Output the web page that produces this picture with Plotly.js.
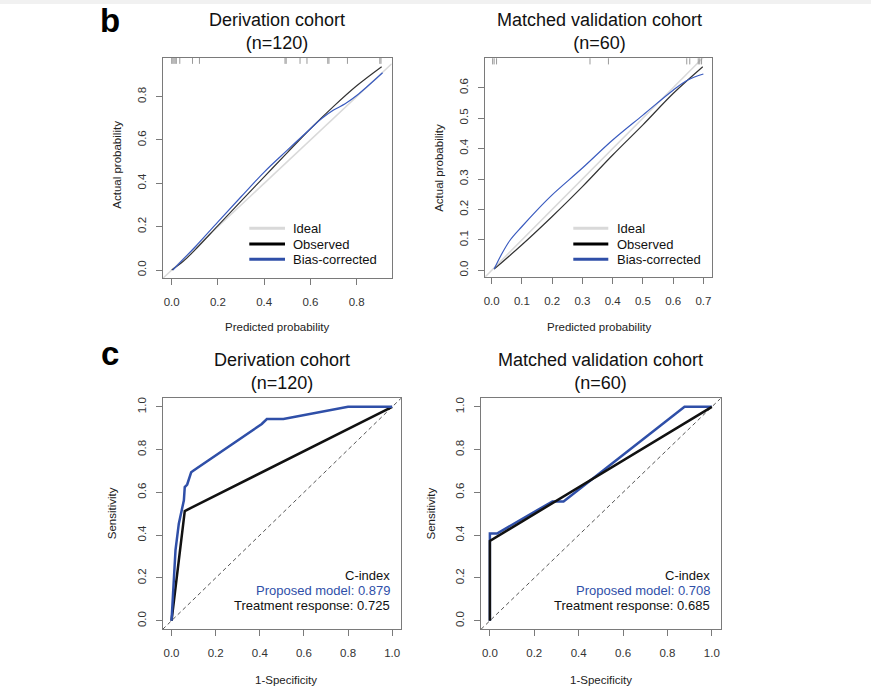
<!DOCTYPE html>
<html><head><meta charset="utf-8">
<script src="https://cdn.plot.ly/plotly-3.0.1.min.js"></script>
<style>html,body{margin:0;padding:0;background:#fff}#chart{width:871px;height:692px}</style>
</head><body><div id="chart"></div>
<script>
// ---------- data ----------
// Calibration, derivation cohort (n=120)
const calDerivObsX  = [0.0, 0.05, 0.1, 0.2, 0.3, 0.4, 0.5, 0.6, 0.7, 0.8, 0.908];
const calDerivObsY  = [0.0, 0.04, 0.092, 0.205, 0.318, 0.43, 0.542, 0.652, 0.755, 0.85, 0.938];
const calDerivBiasX = [0.005, 0.05, 0.1, 0.2, 0.3, 0.4, 0.5, 0.6, 0.65, 0.7, 0.75, 0.8, 0.912];
const calDerivBiasY = [0.0, 0.05, 0.105, 0.222, 0.338, 0.452, 0.553, 0.652, 0.70, 0.738, 0.767, 0.805, 0.91];
const rugDeriv = [0.0, 0.005, 0.01, 0.015, 0.02, 0.035, 0.09, 0.12, 0.49, 0.495, 0.555, 0.585, 0.675, 0.68, 0.76, 0.9, 0.905];
// Calibration, matched validation cohort (n=60)
const calMatchObsX  = [0.008, 0.1, 0.2, 0.3, 0.4, 0.5, 0.6, 0.698];
const calMatchObsY  = [0.004, 0.084, 0.177, 0.275, 0.379, 0.478, 0.581, 0.669];
const calMatchBiasX = [0.008, 0.03, 0.06, 0.1, 0.15, 0.2, 0.3, 0.4, 0.5, 0.6, 0.65, 0.70];
const calMatchBiasY = [0.004, 0.048, 0.098, 0.144, 0.198, 0.248, 0.336, 0.428, 0.51, 0.592, 0.626, 0.645];
const rugMatch = [0.003, 0.008, 0.016, 0.325, 0.386, 0.645, 0.655, 0.683, 0.688, 0.694];
// ROC, derivation cohort
const rocDerivModelX = [0, 0.006, 0.018, 0.033, 0.056, 0.06, 0.071, 0.089, 0.10, 0.409, 0.432, 0.507, 0.80, 1.0];
const rocDerivModelY = [0, 0.129, 0.33, 0.454, 0.563, 0.625, 0.637, 0.694, 0.702, 0.92, 0.943, 0.943, 1.0, 1.0];
const rocDerivTrtX = [0, 0.06, 1.0];
const rocDerivTrtY = [0, 0.513, 1.0];
// ROC, matched validation cohort
const rocMatchModelX = [0, 0, 0.032, 0.282, 0.332, 0.877, 1.0];
const rocMatchModelY = [0, 0.408, 0.408, 0.558, 0.558, 1.0, 1.0];
const rocMatchTrtX = [0, 0, 1.0];
const rocMatchTrtY = [0, 0.373, 1.0];
// C-index values
const cIndexDeriv = {model: '0.879', trt: '0.725'};
const cIndexMatch = {model: '0.708', trt: '0.685'};
// labels
const panelTitles = ['Derivation cohort<br>(n=120)', 'Matched validation cohort<br>(n=60)'];
const legendLabels = ['Ideal', 'Observed', 'Bias-corrected'];

// ---------- styling / layout ----------
const W = 871, H = 692;
const fx = v => v / W, fy = v => 1 - v / H;
const FONT = 'Liberation Sans, Arial, Helvetica, sans-serif';
const BLUE = '#2f4fa8', BLACK = '#111111', IDEAL = '#d9d9d9', AX = '#7a7a7a';

const ranges = {
  x1: [-0.0389, 0.9514], y1: [-0.0383, 0.9797],
  x2: [-0.0222, 0.7295], y2: [-0.021, 0.6967],
  x3: [-0.04, 1.04], y3: [-0.04, 1.04],
  x4: [-0.04, 1.04], y4: [-0.04, 1.04]
};
function ax(domain, range, anchor, tickvals, isY) {
  return {
    domain: domain, range: range, anchor: anchor,
    showline: true, mirror: true, linecolor: AX, linewidth: 1,
    ticks: 'outside', ticklen: 6, tickcolor: AX, tickwidth: 1,
    showgrid: false, zeroline: false, fixedrange: true,
    tickmode: 'array', tickvals: tickvals, ticktext: tickvals.map(v => v.toFixed(1)),
    tickfont: {family: FONT, size: 11.5, color: '#333'},
    tickangle: isY ? -90 : 0,
    ticklabelstandoff: isY ? 5 : 7
  };
}
const t08 = [0, 0.2, 0.4, 0.6, 0.8];
const t07 = [0, 0.1, 0.2, 0.3, 0.4, 0.5, 0.6, 0.7];
const t06 = [0, 0.1, 0.2, 0.3, 0.4, 0.5, 0.6];
const t10 = [0, 0.2, 0.4, 0.6, 0.8, 1.0];

const traces = [];
function line(x, y, xa, ya, color, width, dash, shape) {
  traces.push({x: x, y: y, xaxis: xa, yaxis: ya, type: 'scatter', mode: 'lines',
    line: {color: color, width: width, dash: dash || 'solid', shape: shape || 'linear', smoothing: 1},
    showlegend: false, hoverinfo: 'skip'});
}
function rug(vals, xa, ya, yr) {
  const top = yr[1] - (yr[1] - yr[0]) * 0.012;
  traces.push({x: vals, y: vals.map(() => top), xaxis: xa, yaxis: ya, type: 'scatter', mode: 'markers',
    marker: {symbol: 'line-ns-open', size: 5, color: '#9a9a9a', line: {color: '#9a9a9a', width: 1}},
    showlegend: false, hoverinfo: 'skip'});
}
// calibration 1
line(ranges.x1, ranges.x1, 'x', 'y', IDEAL, 1.5);
line(calDerivObsX, calDerivObsY, 'x', 'y', '#333', 1.2, null, 'spline');
line(calDerivBiasX, calDerivBiasY, 'x', 'y', '#3a5bbf', 1.2, null, 'spline');
rug(rugDeriv, 'x', 'y', ranges.y1);
// calibration 2
line(ranges.x2, ranges.x2, 'x2', 'y2', IDEAL, 1.5);
line(calMatchObsX, calMatchObsY, 'x2', 'y2', '#333', 1.2, null, 'spline');
line(calMatchBiasX, calMatchBiasY, 'x2', 'y2', '#3a5bbf', 1.2, null, 'spline');
rug(rugMatch, 'x2', 'y2', ranges.y2);
// ROC 1
line(ranges.x3, ranges.x3, 'x3', 'y3', '#555', 1, '4px,3px');
line(rocDerivTrtX, rocDerivTrtY, 'x3', 'y3', BLACK, 2.5);
line(rocDerivModelX, rocDerivModelY, 'x3', 'y3', BLUE, 2.5);
// ROC 2
line(ranges.x4, ranges.x4, 'x4', 'y4', '#555', 1, '4px,3px');
line(rocMatchModelX, rocMatchModelY, 'x4', 'y4', BLUE, 2.5);
line(rocMatchTrtX, rocMatchTrtY, 'x4', 'y4', BLACK, 2.5);

const annotations = [];
function txt(text, x, y, opts) {
  annotations.push(Object.assign({text: text, x: x, y: y, xref: 'paper', yref: 'paper', showarrow: false,
    xanchor: 'center', yanchor: 'middle', font: {family: FONT, size: 11.5, color: '#222'}}, opts || {}));
}
// panel letters
txt('<b>b</b>', fx(110), 1, {yanchor: 'top', font: {family: FONT, size: 33, color: '#000'}});
txt('<b>c</b>', fx(110), fy(353), {font: {family: FONT, size: 33, color: '#000'}});
// titles
txt(panelTitles[0], fx(277), fy(31.5), {font: {family: FONT, size: 18, color: '#111'}});
txt(panelTitles[1], fx(599), fy(31.5), {font: {family: FONT, size: 18, color: '#111'}});
txt(panelTitles[0], fx(281.5), fy(371.5), {font: {family: FONT, size: 18, color: '#111'}});
txt(panelTitles[1], fx(600.5), fy(371.5), {font: {family: FONT, size: 18, color: '#111'}});
// axis titles
txt('Predicted probability', fx(277.2), fy(326.7));
txt('Predicted probability', fx(598.5), fy(326.7));
txt('Actual probability', fx(116.7), fy(165), {textangle: -90});
txt('Actual probability', fx(438.3), fy(167.5), {textangle: -90});
txt('1-Specificity', fx(286), fy(680));
txt('1-Specificity', fx(600.5), fy(680));
txt('Sensitivity', fx(111.7), fy(513.5), {textangle: -90});
txt('Sensitivity', fx(430), fy(513.5), {textangle: -90});
// C-index text
function cidx(xa, ya, c) {
  const base = {xref: xa, yref: ya, showarrow: false, xanchor: 'right', yanchor: 'middle'};
  annotations.push(Object.assign({text: 'C-index', x: 1.0, y: 0.21, font: {family: FONT, size: 13, color: '#111'}}, base));
  annotations.push(Object.assign({text: 'Proposed model: ' + c.model, x: 1.0, y: 0.142, font: {family: FONT, size: 13, color: BLUE}}, base));
  annotations.push(Object.assign({text: 'Treatment response: ' + c.trt, x: 1.0, y: 0.07, font: {family: FONT, size: 13, color: '#111'}}, base));
}
cidx('x3', 'y3', cIndexDeriv);
cidx('x4', 'y4', cIndexMatch);

// manual legends for calibration panels
const shapes = [{type: 'rect', xref: 'paper', yref: 'paper', x0: 0, x1: 1, y0: fy(4), y1: 1, fillcolor: '#f1f1f1', line: {width: 0}, layer: 'below'}];
const legColors = [IDEAL, '#000', BLUE];
const legRows = [228.3, 244, 259.3];
[[249.3, 285, 291], [573.3, 608.3, 615]].forEach(p => {
  legendLabels.forEach((lab, i) => {
    shapes.push({type: 'line', xref: 'paper', yref: 'paper', x0: fx(p[0]), x1: fx(p[1]), y0: fy(legRows[i]), y1: fy(legRows[i]),
      line: {color: legColors[i], width: 3}});
    txt(lab, fx(p[2]), fy(legRows[i]), {xanchor: 'left', font: {family: FONT, size: 13, color: '#111'}});
  });
});

const layout = {
  width: W, height: H, margin: {l: 0, r: 0, t: 0, b: 0},
  paper_bgcolor: '#fff', plot_bgcolor: '#fff', showlegend: false,
  xaxis:  ax([fx(162.7), fx(391.7)], ranges.x1, 'y', t08, false),
  yaxis:  ax([fy(278.3), fy(57.7)], ranges.y1, 'x', t08, true),
  xaxis2: ax([fx(485), fx(712.3)], ranges.x2, 'y2', t07, false),
  yaxis2: ax([fy(276.7), fy(58.3)], ranges.y2, 'x2', t06, true),
  xaxis3: ax([fx(162.7), fx(401)], ranges.x3, 'y3', t10, false),
  yaxis3: ax([fy(629.3), fy(398.3)], ranges.y3, 'x3', t10, true),
  xaxis4: ax([fx(481), fx(720.7)], ranges.x4, 'y4', t10, false),
  yaxis4: ax([fy(629.3), fy(398.3)], ranges.y4, 'x4', t10, true),
  annotations: annotations, shapes: shapes
};
Plotly.newPlot('chart', traces, layout, {displayModeBar: false, staticPlot: true});
</script></body></html>
